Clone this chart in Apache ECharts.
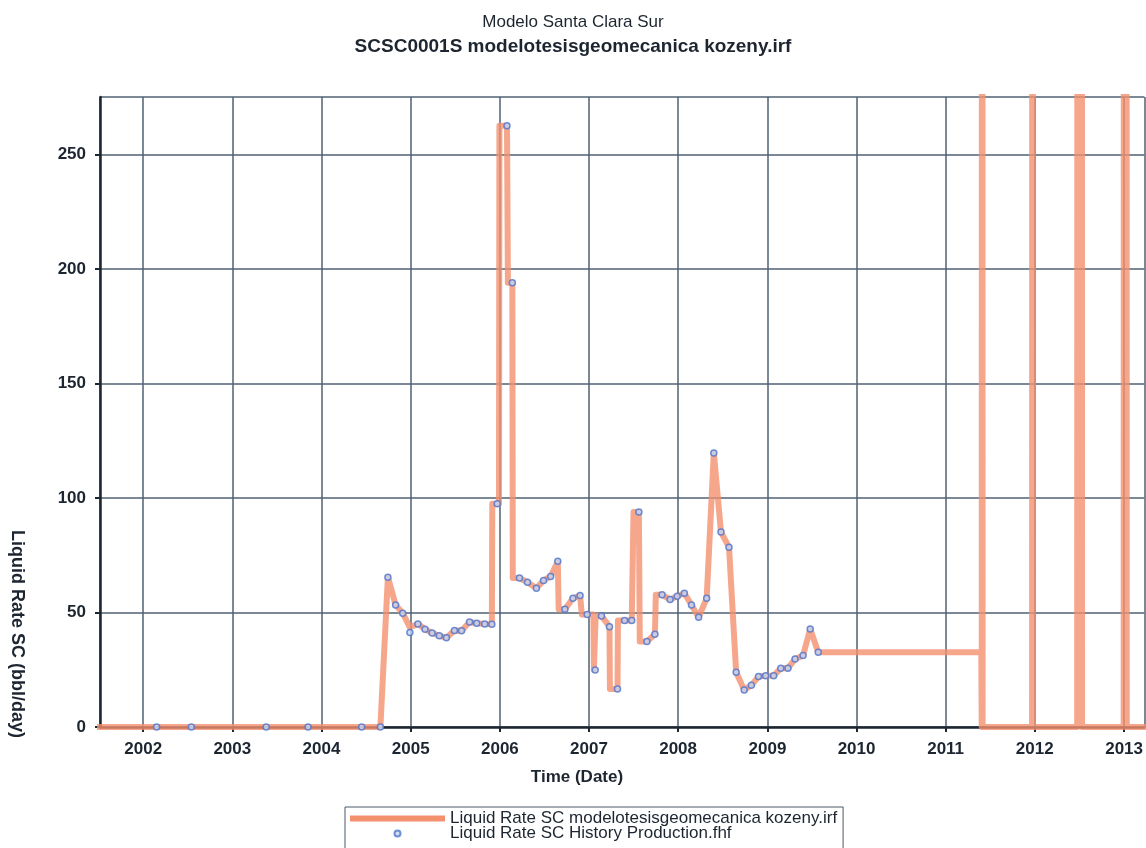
<!DOCTYPE html>
<html>
<head>
<meta charset="utf-8">
<title>SCSC0001S Liquid Rate SC</title>
<script src="https://cdn.jsdelivr.net/npm/echarts@6.0.0/dist/echarts.min.js"></script>
<style>
html, body { margin: 0; padding: 0; background: #fff; }
#chart { width: 1146px; height: 848px; }
</style>
</head>
<body>
<div id="chart"></div>
<script>
// axis range, in decimal years
var xStartYear = 2001.515;
var xEndYear = 2013.228;
var yMax = 275;

// history production (dots): decimal year / bbl per day
var histYears = [
    2002.15, 2002.54, 2003.38, 2003.85, 2004.45, 2004.66,
    2004.744, 2004.83, 2004.91, 2004.99, 2005.08, 2005.16, 2005.24, 2005.32, 2005.40, 2005.49,
    2005.57, 2005.66, 2005.74, 2005.83, 2005.91, 2005.97, 2006.08, 2006.14, 2006.22, 2006.31,
    2006.41, 2006.49, 2006.57, 2006.65, 2006.73, 2006.82, 2006.90, 2006.98, 2007.07, 2007.14,
    2007.23, 2007.32, 2007.40, 2007.48, 2007.56, 2007.65, 2007.74, 2007.82, 2007.91, 2007.99,
    2008.07, 2008.15, 2008.23, 2008.32, 2008.40, 2008.48, 2008.57, 2008.65, 2008.74, 2008.82,
    2008.90, 2008.98, 2009.07, 2009.15, 2009.23, 2009.31, 2009.40, 2009.48, 2009.57
];
var histRates = [
    0, 0, 0, 0, 0, 0,
    65.4, 53.3, 49.7, 41.2, 45.0, 42.7, 41.0, 39.8, 39.0, 42.1,
    42.0, 45.8, 45.3, 45.0, 44.9, 97.5, 262.4, 193.9, 65.0, 63.2,
    60.6, 64.0, 65.7, 72.3, 51.4, 56.2, 57.4, 49.1, 24.9, 48.5,
    43.8, 16.6, 46.5, 46.5, 93.8, 37.3, 40.5, 57.7, 55.7, 57.1,
    58.4, 53.3, 47.9, 56.2, 119.6, 85.1, 78.5, 23.9, 16.2, 18.2,
    22.0, 22.4, 22.4, 25.6, 25.6, 29.7, 31.2, 42.8, 32.6
];

// simulated rate (line): decimal year / bbl per day, spikes run off the top
var simYears = [
    2001.40, 2004.66, 2004.744, 2004.83, 2004.91, 2004.99, 2005.08, 2005.16, 2005.24, 2005.32,
    2005.40, 2005.49, 2005.57, 2005.66, 2005.74, 2005.83, 2005.91, 2005.915, 2005.99, 2005.995,
    2006.08, 2006.09, 2006.14, 2006.145, 2006.22, 2006.31, 2006.41, 2006.49, 2006.57, 2006.65,
    2006.66, 2006.73, 2006.82, 2006.90, 2006.92, 2006.98, 2007.05, 2007.055, 2007.07, 2007.075,
    2007.14, 2007.23, 2007.235, 2007.32, 2007.325, 2007.40, 2007.48, 2007.50, 2007.56, 2007.57,
    2007.65, 2007.74, 2007.75, 2007.82, 2007.91, 2007.99, 2008.07, 2008.15, 2008.23, 2008.32,
    2008.40, 2008.48, 2008.57, 2008.65, 2008.74, 2008.82, 2008.90, 2008.98, 2009.07, 2009.15,
    2009.23, 2009.31, 2009.40, 2009.48, 2009.57, 2011.40, 2011.405, 2011.41, 2011.415, 2011.970,
    2011.975, 2011.98, 2012.475, 2012.48, 2012.525, 2012.53, 2012.995, 2013.0, 2013.025, 2013.03,
    2013.40
];
var simRates = [
    0, 0, 65.4, 53.3, 49.7, 43.5, 45.0, 42.7, 41.0, 39.8,
    39.0, 42.1, 42.0, 45.8, 45.3, 45.0, 44.9, 97.5, 97.5, 262.4,
    262.4, 193.9, 193.9, 65.0, 65.0, 63.2, 60.6, 64.0, 65.7, 72.3,
    51.4, 51.4, 56.2, 57.4, 49.1, 49.1, 49.1, 24.9, 24.9, 48.5,
    48.5, 43.8, 16.6, 16.6, 46.5, 46.5, 46.5, 93.8, 93.8, 37.3,
    37.3, 40.5, 57.7, 57.7, 55.7, 57.1, 58.4, 53.3, 47.9, 56.2,
    119.6, 85.1, 78.5, 23.9, 16.2, 18.2, 22.0, 22.4, 22.4, 25.6,
    25.6, 29.7, 31.2, 42.8, 32.6, 32.6, 0, 1000, 0, 0,
    1000, 0, 0, 1000, 1000, 0, 0, 1000, 1000, 0,
    0
];

var simName = 'Liquid Rate SC modelotesisgeomecanica kozeny.irf';
var histName = 'Liquid Rate SC History Production.fhf';

// decimal year -> timestamp
function yearToTime(y) {
    var yr = Math.floor(y);
    var a = new Date(yr, 0, 1).getTime();
    var b = new Date(yr + 1, 0, 1).getTime();
    return a + (y - yr) * (b - a);
}

function pairs(xs, ys) {
    var out = [];
    for (var i = 0; i < xs.length; i++) {
        out.push([yearToTime(xs[i]), ys[i]]);
    }
    return out;
}

var font = 'Liberation Sans, Arial, Helvetica, sans-serif';
var ink = '#1c2530';
var gridColor = '#4e6272';
var ONE_YEAR = 365 * 24 * 3600 * 1000;

var myChart = echarts.init(document.getElementById('chart'));
myChart.setOption({
    animation: false,
    backgroundColor: '#fff',
    textStyle: { fontFamily: font },
    title: [{
        text: 'Modelo Santa Clara Sur',
        left: 'center',
        top: 9,
        textStyle: { fontSize: 17, fontWeight: 'normal', color: ink, fontFamily: font }
    }, {
        text: 'SCSC0001S modelotesisgeomecanica kozeny.irf',
        left: 'center',
        top: 32,
        textStyle: { fontSize: 19, fontWeight: 'bold', color: ink, fontFamily: font }
    }],
    grid: {
        left: 100,
        right: 0,
        top: 97,
        bottom: 121
    },
    legend: {
        orient: 'vertical',
        left: 345,
        top: 807,
        height: 60,
        padding: [3, 6, 10, 5],
        itemGap: -2,
        itemWidth: 95,
        itemHeight: 6,
        borderColor: '#4a5866',
        borderWidth: 1,
        textStyle: { fontSize: 17, color: ink, lineHeight: 15, fontFamily: font },
        data: [{ name: simName, icon: 'rect' }, { name: histName, icon: 'circle' }]
    },
    graphic: [{
        type: 'text',
        x: 17,
        y: 634,
        rotation: -Math.PI / 2,
        style: {
            text: 'Liquid Rate SC (bbl/day)',
            fill: ink,
            font: 'bold 18px ' + font,
            textAlign: 'center',
            textVerticalAlign: 'middle'
        }
    }, {
        type: 'text',
        x: 577,
        y: 777,
        style: {
            text: 'Time (Date)',
            fill: ink,
            font: 'bold 17px ' + font,
            textAlign: 'center',
            textVerticalAlign: 'middle'
        }
    }],
    xAxis: {
        type: 'time',
        min: yearToTime(xStartYear),
        max: yearToTime(xEndYear),
        splitNumber: 12,
        minInterval: ONE_YEAR,
        maxInterval: ONE_YEAR,
        axisLine: { show: true, onZero: false, lineStyle: { color: ink, width: 2.5 } },
        axisTick: { show: true, length: 5, lineStyle: { color: ink, width: 2 } },
        axisLabel: {
            margin: 14,
            fontSize: 17,
            fontWeight: 'bold',
            color: ink,
            fontFamily: font,
            showMinLabel: false,
            showMaxLabel: false,
            formatter: function (v) { return String(new Date(v).getFullYear()); }
        },
        splitLine: { show: true, lineStyle: { color: gridColor, width: 1.5 } },
        minorTick: { show: false }
    },
    yAxis: {
        type: 'value',
        min: 0,
        max: yMax,
        interval: 50,
        axisLine: { show: true, lineStyle: { color: ink, width: 2.5 } },
        axisTick: { show: true, length: 5, lineStyle: { color: ink, width: 2 } },
        axisLabel: {
            margin: 14,
            fontSize: 17,
            fontWeight: 'bold',
            color: ink,
            fontFamily: font,
            showMaxLabel: false
        },
        splitLine: { show: true, lineStyle: { color: gridColor, width: 1.5 } }
    },
    series: [{
        name: simName,
        type: 'line',
        data: pairs(simYears, simRates),
        showSymbol: false,
        symbol: 'none',
        clip: true,
        z: 2,
        color: '#f3906e',
        lineStyle: { color: '#f3906e', width: 6, opacity: 0.8, join: 'round' }
    }, {
        name: histName,
        type: 'scatter',
        data: pairs(histYears, histRates),
        symbol: 'circle',
        symbolSize: 6,
        z: 3,
        itemStyle: { color: '#c6d5f2', borderColor: '#4d74cc', borderWidth: 1.5 }
    }]
});
</script>
</body>
</html>
